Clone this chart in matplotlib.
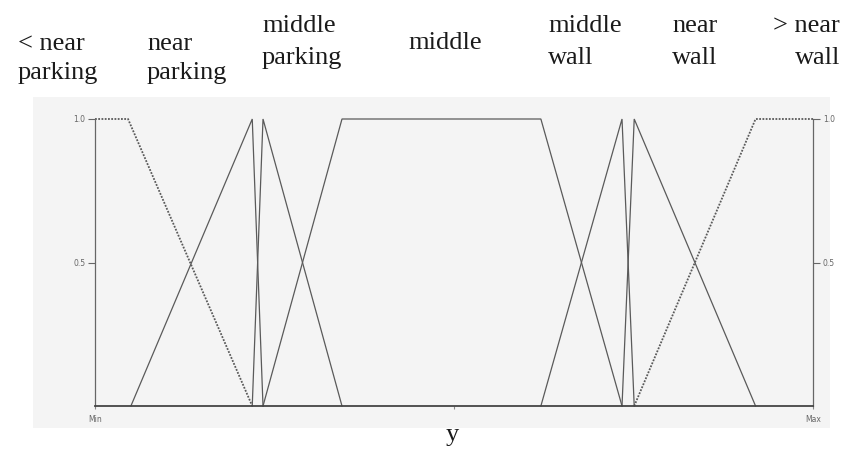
import matplotlib
matplotlib.use("Agg")
import matplotlib.pyplot as plt
from matplotlib.patches import Rectangle

# ---- data (universe of discourse 0 = Min ... 100 = Max) ----
set_names = ["< near\nparking", "near\nparking", "middle\nparking", "middle",
             "middle\nwall", "near\nwall", "> near\nwall"]
lt_near_parking_x = [0, 4.6, 21.9]
lt_near_parking_y = [1, 1, 0]
near_parking_x = [5.0, 21.9, 23.4]
near_parking_y = [0, 1, 0]
middle_parking_x = [21.9, 23.4, 34.4]
middle_parking_y = [0, 1, 0]
middle_x = [23.4, 34.4, 62.1, 73.4]
middle_y = [0, 1, 1, 0]
middle_wall_x = [62.1, 73.4, 75.1]
middle_wall_y = [0, 1, 0]
near_wall_x = [73.4, 75.1, 92.0]
near_wall_y = [0, 1, 0]
gt_near_wall_x = [75.1, 92.0, 100]
gt_near_wall_y = [0, 1, 1]
y_ticks = [0.5, 1.0]
y_tick_labels = ["0.5", "1.0"]
x_ticks = [0, 50, 100]
x_tick_labels = ["Min", "", "Max"]
x_label = "y"

W, H = 846, 450
fig = plt.figure(figsize=(W / 100, H / 100), dpi=100)
fig.patch.set_facecolor("white")

# light grey panel behind the plot
bg = Rectangle((33 / W, 1 - 428 / H), (830 - 33) / W, (428 - 97) / H,
               transform=fig.transFigure, facecolor="#f4f4f4",
               edgecolor="none", zorder=-5)
fig.add_artist(bg)

ax = fig.add_axes([95 / W, 1 - 406 / H, 718 / W, 287 / H])
ax.set_zorder(1)
ax.set_facecolor("none")
ax.set_xlim(0, 100)
ax.set_ylim(0, 1)

lc = "#5a5a5a"
solid = dict(color=lc, lw=0.9, clip_on=False, solid_joinstyle="miter")
dotted = dict(color=lc, lw=1.3, ls=(0, (1, 0.8)), clip_on=False)

ax.plot(lt_near_parking_x, lt_near_parking_y, **dotted)
ax.plot(near_parking_x, near_parking_y, **solid)
ax.plot(middle_parking_x, middle_parking_y, **solid)
ax.plot(middle_x, middle_y, **solid)
ax.plot(middle_wall_x, middle_wall_y, **solid)
ax.plot(near_wall_x, near_wall_y, **solid)
ax.plot(gt_near_wall_x, gt_near_wall_y, **dotted)

ax.spines["top"].set_visible(False)
for s in ["left", "right"]:
    ax.spines[s].set_color("#666666")
    ax.spines[s].set_linewidth(0.9)
ax.spines["bottom"].set_color("#444444")
ax.spines["bottom"].set_linewidth(1.3)

ax.set_yticks(y_ticks)
ax.set_yticklabels(y_tick_labels)
ax.tick_params(axis="y", which="both", left=True, right=True, labelleft=True,
               labelright=True, direction="out", length=5, width=0.8,
               color="#666666", labelsize=5.5, labelcolor="#666666", pad=2)
ax.set_xticks(x_ticks)
ax.set_xticklabels(x_tick_labels)
ax.tick_params(axis="x", direction="out", length=2.5, width=0.8, color="#888888",
               labelsize=5.5, labelcolor="#666666", pad=4)

serif = ["Liberation Serif", "DejaVu Serif"]

# header labels of the fuzzy sets (left x or right x, baselines in px)
label_pos = [(18, "left", [50, 79]),
             (147, "left", [50, 79]),
             (262, "left", [32, 64]),
             (408, "left", [49]),
             (548, "left", [32, 64]),
             (672, "left", [32, 64]),
             (840, "right", [32, 64])]
for name, (px, ha, bases) in zip(set_names, label_pos):
    for line, b in zip(name.split("\n"), bases):
        fig.text(px / W, 1 - b / H, line, ha=ha, va="baseline",
                 family=serif, fontsize=19, color="#1a1a1a")

fig.text(452 / W, 1 - 441 / H, x_label, ha="center", va="baseline",
         family=serif, fontsize=19, color="#1a1a1a")

fig.savefig("out.png", dpi=100)
